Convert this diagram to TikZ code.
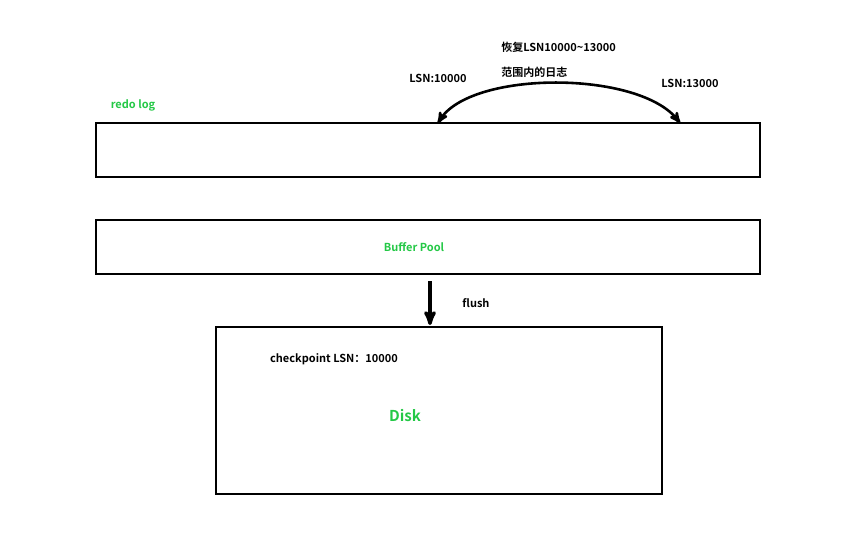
\documentclass[tikz,border=0pt]{standalone}
\usepackage{fontspec}
\setmainfont{Noto Sans CJK SC}[BoldFont={* Bold}]
\usetikzlibrary{arrows}
\definecolor{lgreen}{RGB}{36,200,70}
\begin{document}
\begin{tikzpicture}[x=1pt,y=-1pt,>=stealth',line width=2.6pt,
                    font=\bfseries\fontsize{11}{13}\selectfont]
  \tikzstyle{box}=[draw=black,line width=2.6pt]
  \tikzstyle{lbl}=[text=black,inner sep=0pt]
  \useasboundingbox (0,0) rectangle (861,546);

  \draw[box] (96,123) rectangle (760,177);
  \draw[box] (96,220) rectangle (760,274);
  \draw[box] (216,327) rectangle (662,494);

  \node[lbl,text=lgreen] (redo) at (133,105) {redo log};
  \node[lbl,text=lgreen] (bp)   at (414,247) {Buffer Pool};
  \node[lbl,text=lgreen,font=\bfseries\fontsize{15}{18}\selectfont] (disk) at (405,416) {Disk};
  \node[lbl] (ckpt) at (334,359) {checkpoint LSN：10000};

  \node[lbl] (lsnA) at (438,78) {LSN:10000};
  \node[lbl] (lsnB) at (690,83) {LSN:13000};
  \node[lbl,anchor=west] (rec1) at (500,47) {恢复LSN10000\textasciitilde13000};
  \node[lbl,anchor=west] (rec2) at (500,72) {范围内的日志};

  \coordinate (a) at (438,123);
  \coordinate (b) at (680,123);
  \draw[<->] (a) .. controls (470,70) and (640,70) .. (b);

  \coordinate (f1) at (430,281);
  \coordinate (f2) at (430,325);
  \draw[->,line width=3.4pt] (f1) -- (f2);
  \node[lbl] (flush) at (476,303) {flush};
\end{tikzpicture}
\end{document}
